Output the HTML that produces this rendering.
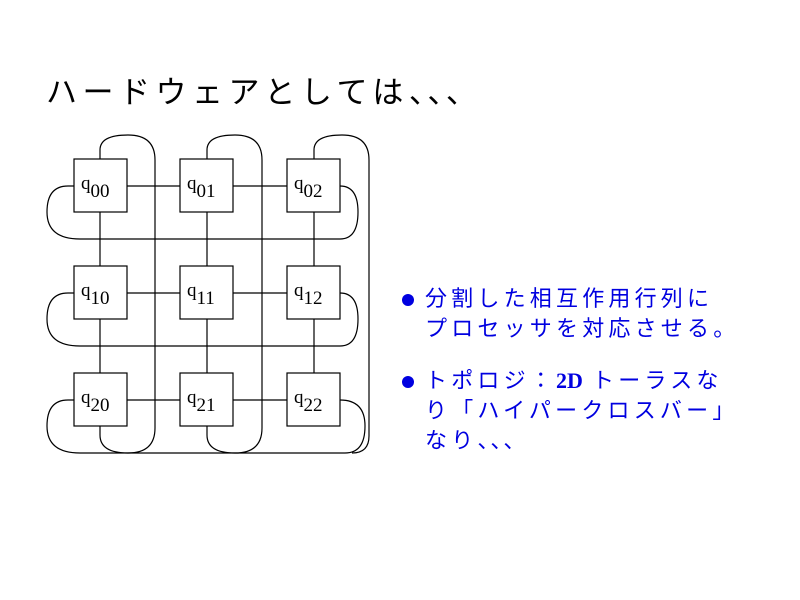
<!DOCTYPE html>
<html><head><meta charset="utf-8"><style>
body{margin:0;width:800px;height:600px;background:#fff;position:relative;overflow:hidden}
.t{position:absolute;white-space:nowrap;font-family:"Noto Sans CJK JP","Liberation Sans",sans-serif}
.b{color:#0000e0;font-size:22px;letter-spacing:4.2px;line-height:1}
.s{font-family:"Liberation Serif",serif;font-weight:bold;letter-spacing:0}
.dot{position:absolute;width:12px;height:12px;border-radius:50%;background:#0000e0}
</style></head><body>
<div class="t" style="left:46px;top:74px;font-size:31px;letter-spacing:5.5px;line-height:1">ハードウェアとしては<span style="letter-spacing:3px">、、、</span></div>
<svg width="800" height="600" style="position:absolute;left:0;top:0" fill="none" stroke="#000" stroke-width="1.2">
<g>
<line x1="127" y1="186" x2="180" y2="186"/><line x1="233" y1="186" x2="287" y2="186"/>
<line x1="127" y1="293" x2="180" y2="293"/><line x1="233" y1="293" x2="287" y2="293"/>
<line x1="127" y1="400" x2="180" y2="400"/><line x1="233" y1="400" x2="287" y2="400"/>
<line x1="100" y1="212" x2="100" y2="266"/><line x1="100" y1="319" x2="100" y2="373"/>
<line x1="207" y1="212" x2="207" y2="266"/><line x1="207" y1="319" x2="207" y2="373"/>
<line x1="314" y1="212" x2="314" y2="266"/><line x1="314" y1="319" x2="314" y2="373"/>
<path d="M100 159 V150 Q100 135 128 135 Q155 135 155 160 V428 Q155 453 128 453 Q100 453 100 435 V426"/>
<path d="M207 159 V150 Q207 135 235 135 Q262 135 262 160 V428 Q262 453 235 453 Q207 453 207 435 V426"/>
<path d="M314 159 V150 Q314 135 342 135 Q369 135 369 160 V436 Q369 453 352 453"/>
<path d="M74 186 H68 Q47 186 47 212 Q47 239 80 239 H340 Q358 239 358 212 Q358 186 340 186"/>
<path d="M74 293 H68 Q47 293 47 319 Q47 346 80 346 H340 Q358 346 358 319 Q358 293 340 293"/>
<path d="M74 400 H68 Q47 400 47 426 Q47 453 80 453 H345 Q365 453 365 426 Q365 400 340 400"/>
</g>
<g fill="#fff">
<rect x="74" y="159" width="53" height="53"/><rect x="180" y="159" width="53" height="53"/><rect x="287" y="159" width="53" height="53"/>
<rect x="74" y="266" width="53" height="53"/><rect x="180" y="266" width="53" height="53"/><rect x="287" y="266" width="53" height="53"/>
<rect x="74" y="373" width="53" height="53"/><rect x="180" y="373" width="53" height="53"/><rect x="287" y="373" width="53" height="53"/>
</g>
<g font-family="Liberation Serif,serif" font-size="19" fill="#000" stroke="none">
<text x="81" y="189">q<tspan dy="8">00</tspan></text>
<text x="187" y="189">q<tspan dy="8">01</tspan></text>
<text x="294" y="189">q<tspan dy="8">02</tspan></text>
<text x="81" y="296">q<tspan dy="8">10</tspan></text>
<text x="187" y="296">q<tspan dy="8">11</tspan></text>
<text x="294" y="296">q<tspan dy="8">12</tspan></text>
<text x="81" y="403">q<tspan dy="8">20</tspan></text>
<text x="187" y="403">q<tspan dy="8">21</tspan></text>
<text x="294" y="403">q<tspan dy="8">22</tspan></text>
</g>
</svg>
<div class="dot" style="left:402px;top:294px"></div>
<div class="dot" style="left:402px;top:376px"></div>
<div class="t b" style="left:425px;top:286px">分割した相互作用行列に</div>
<div class="t b" style="left:425px;top:316px">プロセッサを対応させる。</div>
<div class="t b" style="left:425px;top:368px">トポロジ：<span class="s">2D</span> トーラスな</div>
<div class="t b" style="left:425px;top:398px">り「ハイパークロスバー」</div>
<div class="t b" style="left:425px;top:428px">なり<span style="letter-spacing:2px">、、、</span></div>
</body></html>
